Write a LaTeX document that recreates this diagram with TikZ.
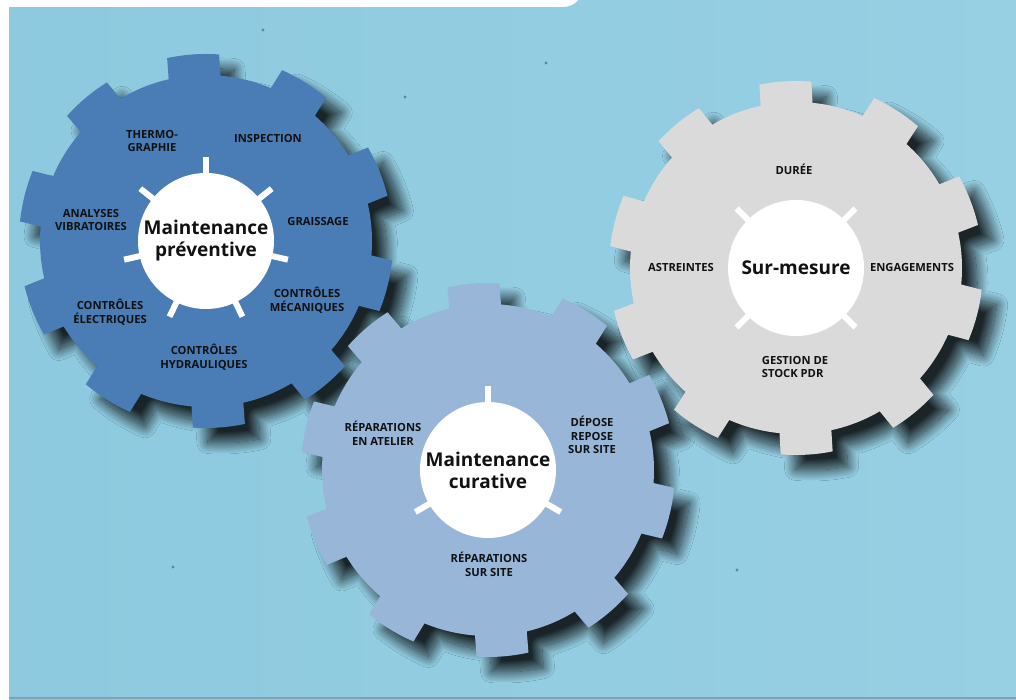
\documentclass[tikz,border=0pt]{standalone}
\usepackage{fontspec}
\setmainfont{Open Sans}
\usetikzlibrary{shadows.blur,calc}
\definecolor{bgA}{HTML}{8DCADF}
\definecolor{bgB}{HTML}{AAD9EA}
\definecolor{bgC}{HTML}{97CFE3}
\definecolor{gearA}{HTML}{4A7DB5}
\definecolor{gearB}{HTML}{98B6D8}
\definecolor{gearC}{HTML}{DADADA}
\definecolor{ink}{HTML}{111111}
\definecolor{bottomline}{HTML}{7FA2AE}
\definecolor{speck}{HTML}{35606F}
\tikzset{
  gearshadow/.style={blur shadow={shadow xshift=15pt, shadow yshift=-15pt, shadow blur radius=11pt, shadow blur steps=24, shadow opacity=82}},
  hub/.style={circle, fill=white, minimum size=136pt, inner sep=0pt, align=center, font=\bfseries\fontsize{19}{22}\selectfont, text=ink},
  lab/.style={align=center, font=\bfseries\fontsize{11.2}{13.8}\selectfont, text=ink, inner sep=0pt},
  hubtick/.style={white, line width=6pt},
}
\begin{document}
\begin{tikzpicture}[x=1pt,y=1pt]
\useasboundingbox (0,0) rectangle (1016,700);
\fill[white] (0,0) rectangle (1016,700);
\begin{scope}
\clip (0,0) rectangle (1016,700);
\shade[left color=bgA, middle color=bgB, right color=bgC] (9,0) rectangle (1016,700);
\draw[bottomline, line width=1.5pt] (9,2) -- (1016,2);
\foreach \p in {(263,670),(546,637),(405,603),(737,130),(173,133)}
  \fill[speck, opacity=.6] \p circle (1.6);
\fill[white, rounded corners=20pt] (-20,693) rectangle (583,760);
\end{scope}
% shadows
\begin{scope}[shift={(206,459)}, rotate=94]
  \path[gearshadow] (-9:166) \foreach \k in {0,...,9}{ -- ({36*\k-8}:187) arc[start angle={36*\k-8}, end angle={36*\k+8}, radius=187] -- ({36*\k+9}:166) arc[start angle={36*\k+9}, end angle={36*\k+27}, radius=166]} -- cycle;
\end{scope}
\begin{scope}[shift={(796,432)}, rotate=93.3]
  \path[gearshadow] (-9:166) \foreach \k in {0,...,9}{ -- ({36*\k-8}:187) arc[start angle={36*\k-8}, end angle={36*\k+8}, radius=187] -- ({36*\k+9}:166) arc[start angle={36*\k+9}, end angle={36*\k+27}, radius=166]} -- cycle;
\end{scope}
\begin{scope}[shift={(488,230)}, rotate=94.5]
  \path[gearshadow] (-9:166) \foreach \k in {0,...,9}{ -- ({36*\k-8}:187) arc[start angle={36*\k-8}, end angle={36*\k+8}, radius=187] -- ({36*\k+9}:166) arc[start angle={36*\k+9}, end angle={36*\k+27}, radius=166]} -- cycle;
\end{scope}
% gears
\begin{scope}[shift={(206,459)}, rotate=94]
  \fill[gearA] (-9:166) \foreach \k in {0,...,9}{ -- ({36*\k-8}:187) arc[start angle={36*\k-8}, end angle={36*\k+8}, radius=187] -- ({36*\k+9}:166) arc[start angle={36*\k+9}, end angle={36*\k+27}, radius=166]} -- cycle;
\end{scope}
\begin{scope}[shift={(796,432)}, rotate=93.3]
  \fill[gearC] (-9:166) \foreach \k in {0,...,9}{ -- ({36*\k-8}:187) arc[start angle={36*\k-8}, end angle={36*\k+8}, radius=187] -- ({36*\k+9}:166) arc[start angle={36*\k+9}, end angle={36*\k+27}, radius=166]} -- cycle;
\end{scope}
\begin{scope}[shift={(488,230)}, rotate=94.5]
  \fill[gearB] (-9:166) \foreach \k in {0,...,9}{ -- ({36*\k-8}:187) arc[start angle={36*\k-8}, end angle={36*\k+8}, radius=187] -- ({36*\k+9}:166) arc[start angle={36*\k+9}, end angle={36*\k+27}, radius=166]} -- cycle;
\end{scope}
% gear 1 ticks and hub
\foreach \a in {0,...,6}
  \draw[hubtick] ($(206,459)+({90-360/7*\a}:64)$) -- ($(206,459)+({90-360/7*\a}:84)$);
\node[hub] (prev) at (206,459) {Maintenance\\préventive};
\node[lab] (thermo) at (152,559) {THERMO-\\GRAPHIE};
\node[lab] (inspect) at (268,561) {INSPECTION};
\node[lab] (graiss) at (318,478) {GRAISSAGE};
\node[lab] (meca) at (307,400) {CONTRÔLES\\MÉCANIQUES};
\node[lab] (hydro) at (204,343) {CONTRÔLES\\HYDRAULIQUES};
\node[lab] (elec) at (110,388) {CONTRÔLES\\ÉLECTRIQUES};
\node[lab] (vibra) at (91,480) {ANALYSES\\VIBRATOIRES};
% gear 3
\foreach \a in {45,135,225,315}
  \draw[hubtick] ($(796,432)+(\a:64)$) -- ($(796,432)+(\a:84)$);
\node[hub] (sur) at (796,432) {Sur-mesure};
\node[lab] (duree) at (794,531) {DURÉE};
\node[lab] (engag) at (912,432) {ENGAGEMENTS};
\node[lab] (astre) at (681,432) {ASTREINTES};
\node[lab, align=left] (stock) at (795,333) {GESTION DE\\STOCK PDR};
% gear 2
\foreach \a in {90,210,330}
  \draw[hubtick] ($(488,230)+(\a:64)$) -- ($(488,230)+(\a:84)$);
\node[hub] (cur) at (488,230) {Maintenance\\curative};
\node[lab] (atelier) at (383,267) {RÉPARATIONS\\EN ATELIER};
\node[lab] (depose) at (592,265) {DÉPOSE\\REPOSE\\SUR SITE};
\node[lab] (site) at (489,136) {RÉPARATIONS\\SUR SITE};
\end{tikzpicture}
\end{document}
